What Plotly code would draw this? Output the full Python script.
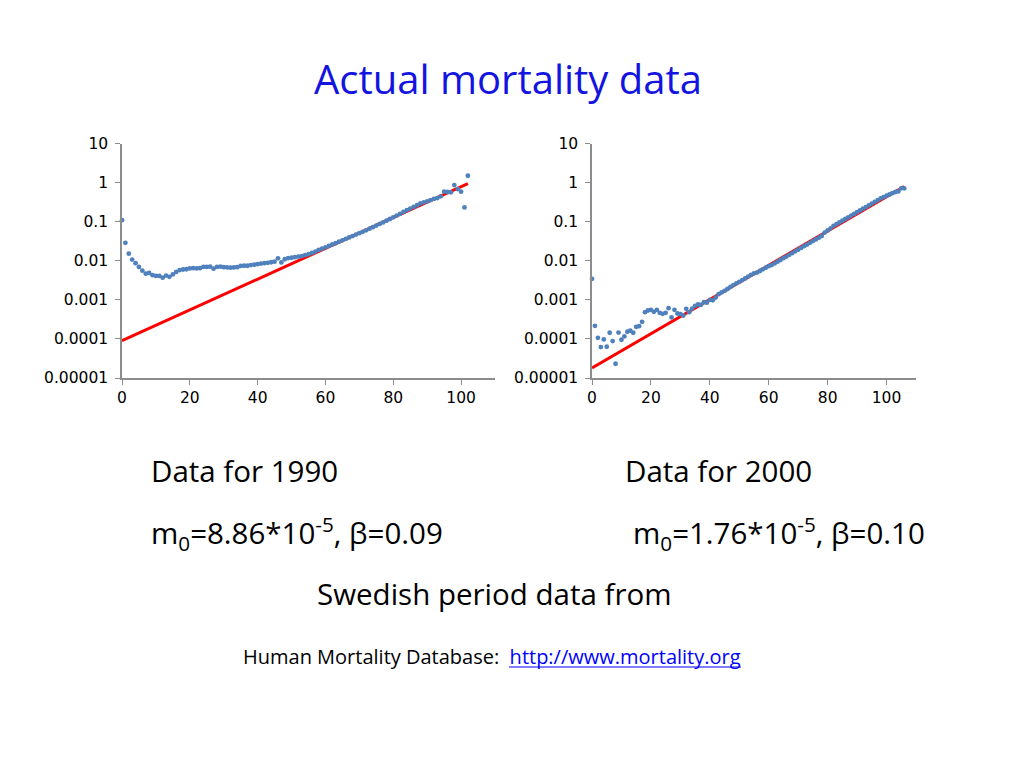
import plotly.graph_objects as go

# ---------------- data ----------------
ages_1990 = list(range(0, 103))
mort_1990 = [
    0.110, 0.029, 0.0154, 0.0108, 0.0087, 0.0070, 0.0056, 0.0047, 0.0049, 0.0043,
    0.0041, 0.0041, 0.0037, 0.0042, 0.0039, 0.0045, 0.0052, 0.0058, 0.0060, 0.0061,
    0.0064, 0.0065, 0.0064, 0.0065, 0.0070, 0.0070, 0.0071, 0.0063, 0.0070, 0.0071,
    0.0069, 0.0068, 0.0067, 0.0068, 0.0069, 0.0074, 0.0075, 0.0075, 0.0078, 0.0080,
    0.0082, 0.0085, 0.0087, 0.0089, 0.0092, 0.0095, 0.0116, 0.0091, 0.0110, 0.0118,
    0.0120, 0.0124, 0.0129, 0.0132, 0.0140, 0.0148, 0.0160, 0.0172, 0.0190, 0.0205,
    0.0222, 0.0240, 0.0262, 0.0282, 0.0310, 0.0335, 0.0365, 0.0398, 0.0432, 0.0470,
    0.0510, 0.0555, 0.0605, 0.0665, 0.0730, 0.0800, 0.0880, 0.0965, 0.1070, 0.1180,
    0.1300, 0.1440, 0.1600, 0.1780, 0.1980, 0.2180, 0.2400, 0.2650, 0.2950, 0.3150,
    0.3350, 0.3600, 0.3850, 0.4050, 0.4500, 0.5900, 0.5800, 0.5700, 0.8700, 0.6900,
    0.5900, 0.2340, 1.5100,
]

ages_2000 = list(range(0, 107))
mort_2000 = [
    0.00346, 0.000217, 0.000107, 0.0000618, 0.0000970, 0.0000631, 0.000144, 0.0000881, 0.0000232, 0.000146,
    0.0000953, 0.000116, 0.000153, 0.000162, 0.000144, 0.000205, 0.000213, 0.000275, 0.000486, 0.000535,
    0.000557, 0.000495, 0.000557, 0.000467, 0.000440, 0.000467, 0.000615, 0.000355, 0.000557, 0.000449,
    0.000432, 0.000399, 0.000591, 0.000486, 0.000600, 0.000705, 0.000762, 0.000750, 0.000875, 0.000850,
    0.00100, 0.00098, 0.00115, 0.00140, 0.00155, 0.00170, 0.00190, 0.00215, 0.00240, 0.00265,
    0.00290, 0.00320, 0.00355, 0.00395, 0.00435, 0.00480, 0.00500, 0.00550, 0.00605, 0.00665,
    0.00730, 0.0078, 0.0086, 0.0095, 0.0105, 0.0117, 0.0129, 0.0143, 0.0158, 0.0175,
    0.0193, 0.0214, 0.0237, 0.0261, 0.0290, 0.0320, 0.0354, 0.0392, 0.0433, 0.0530,
    0.0600, 0.0680, 0.0787, 0.0870, 0.0963, 0.1065, 0.1178, 0.1303, 0.1441, 0.1595,
    0.1764, 0.1952, 0.2159, 0.2389, 0.2643, 0.2924, 0.3235, 0.3578, 0.3959, 0.4300,
    0.4650, 0.5000, 0.5400, 0.5800, 0.6000, 0.7200, 0.7200,
]

# fitted Gompertz lines (end points)
fit_1990_x = [0, 102]
fit_1990_y = [9.0e-5, 0.95]
fit_2000_x = [0, 106]
fit_2000_y = [1.8e-5, 0.80]

y_tickvals = [1e-5, 1e-4, 1e-3, 1e-2, 1e-1, 1, 10]
y_ticktext = ["0.00001", "0.0001", "0.001", "0.01", "0.1", "1", "10"]
x_tickvals = [0, 20, 40, 60, 80, 100]

W, H = 1024, 768
OFF = 8  # page body margin
def px(x):
    return (x - OFF) / W
def py(y):
    return 1 - (y - OFF) / H

DOT = "#4F81BD"
RED = "#FF0000"
AXIS = "#8C8C8C"
TICKFONT = dict(family="DejaVu Sans, sans-serif", size=15.5, color="#000000")
BODY = "'Open Sans', Lato, sans-serif"

fig = go.Figure()

fig.add_trace(go.Scatter(x=fit_1990_x, y=fit_1990_y, mode="lines",
                         line=dict(color=RED, width=3), xaxis="x", yaxis="y",
                         showlegend=False, hoverinfo="skip"))
fig.add_trace(go.Scatter(x=ages_1990, y=mort_1990, mode="markers",
                         marker=dict(color=DOT, size=4.8), xaxis="x", yaxis="y",
                         showlegend=False, cliponaxis=False))
fig.add_trace(go.Scatter(x=fit_2000_x, y=fit_2000_y, mode="lines",
                         line=dict(color=RED, width=3), xaxis="x2", yaxis="y2",
                         showlegend=False, hoverinfo="skip"))
fig.add_trace(go.Scatter(x=ages_2000, y=mort_2000, mode="markers",
                         marker=dict(color=DOT, size=4.8), xaxis="x2", yaxis="y2",
                         showlegend=False, cliponaxis=False))

ydom = [py(378), py(143.7)]
common_x = dict(range=[0, 110], tickvals=x_tickvals, ticks="outside", ticklen=5,
                tickcolor=AXIS, showline=True, linecolor=AXIS, linewidth=1.5,
                showgrid=False, zeroline=False, tickfont=TICKFONT, automargin=False)
common_y = dict(type="log", range=[-5, 1], tickvals=y_tickvals, ticktext=y_ticktext,
                ticks="outside", ticklen=5, tickcolor=AXIS, showline=True,
                linecolor=AXIS, linewidth=1.5, showgrid=False, zeroline=False,
                tickfont=TICKFONT, ticklabelstandoff=4, automargin=False)

fig.update_layout(
    width=W, height=H,
    margin=dict(l=0, r=0, t=0, b=0, pad=0, autoexpand=False),
    paper_bgcolor="white", plot_bgcolor="white",
    xaxis=dict(domain=[px(122), px(495)], anchor="y", **common_x),
    yaxis=dict(domain=ydom, anchor="x", **common_y),
    xaxis2=dict(domain=[px(592), px(916)], anchor="y2", **common_x),
    yaxis2=dict(domain=ydom, anchor="x2", **common_y),
)

annots = [
    dict(text="Actual mortality data", x=px(508), y=py(78), xanchor="center",
         font=dict(family=BODY, size=40, color="#1414E0")),
    dict(text="Data for 1990", x=px(149), y=py(470), xanchor="left",
         font=dict(family=BODY, size=29.5, color="#000000")),
    dict(text="Data for 2000", x=px(623), y=py(470), xanchor="left",
         font=dict(family=BODY, size=29.5, color="#000000")),
    dict(text="m<sub>0</sub>=8.86*10<sup>-5</sup>, β=0.09", x=px(149), y=py(533), xanchor="left",
         font=dict(family=BODY, size=29.5, color="#000000")),
    dict(text="m<sub>0</sub>=1.76*10<sup>-5</sup>, β=0.10", x=px(631), y=py(533), xanchor="left",
         font=dict(family=BODY, size=29.5, color="#000000")),
    dict(text="Swedish period data from", x=px(315), y=py(593), xanchor="left",
         font=dict(family=BODY, size=29.5, color="#000000")),
    dict(text="Human Mortality Database:  <span style='color:#0000FF'>http://www.mortality.org</span>",
         x=px(241), y=py(656), xanchor="left",
         font=dict(family=BODY, size=20, color="#000000")),
]
for a in annots:
    a.update(xref="paper", yref="paper", yanchor="middle", showarrow=False)
fig.update_layout(annotations=annots)

# underline of the link
fig.add_shape(type="line", xref="paper", yref="paper",
              x0=px(509), x1=px(741), y0=py(667), y1=py(667),
              line=dict(color="#0000FF", width=1))

fig.write_html("out.html")
